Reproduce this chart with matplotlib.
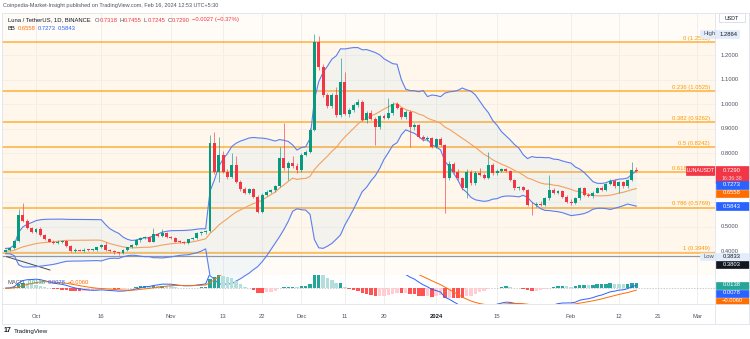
import numpy as np
import pandas as pd
import matplotlib
matplotlib.use("Agg")
import matplotlib.pyplot as plt
from matplotlib.patches import Rectangle
from matplotlib.lines import Line2D

plt.rcParams['font.family'] = ['Liberation Sans', 'DejaVu Sans']

# September closes before the first drawn candle (indicator warm-up only)
sep_closes = [0.404, 0.401, 0.398, 0.396, 0.399, 0.403, 0.407, 0.411, 0.414, 0.410,
              0.405, 0.400, 0.395, 0.392, 0.394, 0.398, 0.402, 0.406, 0.409, 0.412,
              0.408, 0.404, 0.399, 0.396, 0.393, 0.397, 0.401, 0.404, 0.402, 0.399]

# Daily LUNA/USDT candles, 2023-09-24 .. 2024-02-16
opens = [0.398, 0.405, 0.412, 0.443, 0.548, 0.525, 0.494, 0.480, 0.492, 0.467,
         0.449, 0.439, 0.433, 0.440, 0.443, 0.422, 0.402, 0.404, 0.403, 0.405,
         0.404, 0.406, 0.416, 0.425, 0.405, 0.402, 0.396, 0.392, 0.405, 0.416,
         0.425, 0.446, 0.456, 0.458, 0.440, 0.471, 0.462, 0.476, 0.457, 0.455,
         0.440, 0.437, 0.434, 0.450, 0.456, 0.474, 0.479, 0.482, 0.841, 0.725,
         0.793, 0.725, 0.705, 0.752, 0.684, 0.653, 0.640, 0.653, 0.623, 0.562,
         0.630, 0.643, 0.650, 0.667, 0.780, 0.739, 0.762, 0.749, 0.731, 0.793,
         0.807, 0.895, 1.256, 1.153, 1.038, 0.993, 1.038, 0.956, 1.092, 0.960,
         0.977, 0.997, 1.011, 0.936, 0.966, 0.941, 0.909, 0.952, 0.945, 0.963,
         1.001, 0.985, 0.947, 0.970, 0.906, 0.915, 0.868, 0.857, 0.862, 0.827,
         0.857, 0.834, 0.698, 0.757, 0.725, 0.698, 0.657, 0.725, 0.680, 0.721,
         0.712, 0.700, 0.752, 0.718, 0.728, 0.735, 0.728, 0.691, 0.657, 0.662,
         0.650, 0.589, 0.587, 0.595, 0.588, 0.616, 0.650, 0.640, 0.646, 0.623,
         0.603, 0.599, 0.616, 0.657, 0.630, 0.624, 0.640, 0.660, 0.652, 0.675,
         0.688, 0.665, 0.681, 0.665, 0.691, 0.7318]
highs = [0.409, 0.414, 0.447, 0.571, 0.596, 0.530, 0.500, 0.496, 0.500, 0.472,
         0.456, 0.446, 0.445, 0.447, 0.446, 0.426, 0.412, 0.410, 0.415, 0.409,
         0.410, 0.419, 0.429, 0.440, 0.409, 0.405, 0.399, 0.408, 0.418, 0.428,
         0.449, 0.460, 0.462, 0.463, 0.494, 0.476, 0.490, 0.480, 0.462, 0.459,
         0.446, 0.444, 0.452, 0.460, 0.480, 0.482, 0.486, 0.875, 0.888, 0.868,
         0.810, 0.735, 0.800, 0.790, 0.690, 0.662, 0.660, 0.658, 0.628, 0.640,
         0.650, 0.656, 0.672, 0.827, 0.922, 0.770, 0.790, 0.760, 0.800, 0.815,
         0.905, 1.2864, 1.280, 1.165, 1.045, 1.045, 1.072, 1.188, 1.133, 0.985,
         1.005, 1.020, 1.018, 0.972, 0.975, 0.948, 0.958, 0.960, 1.024, 1.008,
         1.010, 0.990, 0.978, 0.975, 0.922, 0.920, 0.875, 0.870, 0.868, 0.862,
         0.865, 0.840, 0.770, 0.765, 0.735, 0.705, 0.735, 0.732, 0.728, 0.738,
         0.718, 0.807, 0.760, 0.735, 0.742, 0.740, 0.733, 0.696, 0.668, 0.668,
         0.655, 0.600, 0.600, 0.606, 0.620, 0.711, 0.660, 0.652, 0.652, 0.628,
         0.612, 0.620, 0.662, 0.664, 0.636, 0.645, 0.664, 0.668, 0.680, 0.694,
         0.695, 0.686, 0.688, 0.696, 0.763, 0.7455]
lows = [0.396, 0.401, 0.409, 0.440, 0.518, 0.490, 0.476, 0.474, 0.462, 0.445,
        0.436, 0.430, 0.428, 0.434, 0.418, 0.398, 0.398, 0.400, 0.399, 0.400,
        0.401, 0.403, 0.412, 0.402, 0.398, 0.391, 0.3833, 0.390, 0.402, 0.413,
        0.422, 0.440, 0.450, 0.437, 0.436, 0.458, 0.458, 0.453, 0.450, 0.436,
        0.434, 0.430, 0.431, 0.446, 0.452, 0.468, 0.472, 0.478, 0.715, 0.684,
        0.718, 0.695, 0.700, 0.678, 0.648, 0.634, 0.632, 0.618, 0.555, 0.555,
        0.625, 0.637, 0.644, 0.662, 0.730, 0.690, 0.742, 0.720, 0.725, 0.788,
        0.800, 0.890, 1.140, 1.030, 0.985, 0.985, 0.950, 0.950, 0.955, 0.950,
        0.968, 0.990, 0.930, 0.925, 0.935, 0.834, 0.900, 0.940, 0.938, 0.955,
        0.980, 0.940, 0.940, 0.827, 0.895, 0.862, 0.850, 0.850, 0.820, 0.820,
        0.828, 0.556, 0.690, 0.718, 0.692, 0.650, 0.616, 0.672, 0.672, 0.708,
        0.694, 0.695, 0.712, 0.712, 0.722, 0.724, 0.686, 0.650, 0.650, 0.645,
        0.584, 0.548, 0.580, 0.584, 0.583, 0.610, 0.632, 0.633, 0.618, 0.598,
        0.590, 0.594, 0.610, 0.626, 0.620, 0.618, 0.636, 0.648, 0.648, 0.670,
        0.660, 0.638, 0.660, 0.660, 0.688, 0.7245]
closes = [0.405, 0.412, 0.443, 0.548, 0.525, 0.494, 0.480, 0.492, 0.467, 0.449,
          0.439, 0.433, 0.440, 0.443, 0.422, 0.402, 0.404, 0.403, 0.405, 0.404,
          0.406, 0.416, 0.425, 0.405, 0.402, 0.396, 0.392, 0.405, 0.416, 0.425,
          0.446, 0.456, 0.458, 0.440, 0.471, 0.462, 0.476, 0.457, 0.455, 0.440,
          0.437, 0.434, 0.450, 0.456, 0.474, 0.479, 0.482, 0.841, 0.725, 0.793,
          0.725, 0.705, 0.752, 0.684, 0.653, 0.640, 0.653, 0.623, 0.562, 0.630,
          0.643, 0.650, 0.667, 0.780, 0.739, 0.762, 0.749, 0.731, 0.793, 0.807,
          0.895, 1.256, 1.153, 1.038, 0.993, 1.038, 0.956, 1.092, 0.960, 0.977,
          0.997, 1.011, 0.936, 0.966, 0.941, 0.909, 0.952, 0.945, 0.963, 1.001,
          0.985, 0.947, 0.970, 0.906, 0.915, 0.868, 0.857, 0.862, 0.827, 0.857,
          0.834, 0.698, 0.757, 0.725, 0.698, 0.657, 0.725, 0.680, 0.721, 0.712,
          0.700, 0.752, 0.718, 0.728, 0.735, 0.728, 0.691, 0.657, 0.662, 0.650,
          0.589, 0.587, 0.595, 0.588, 0.616, 0.650, 0.640, 0.646, 0.623, 0.603,
          0.599, 0.616, 0.657, 0.630, 0.624, 0.640, 0.660, 0.652, 0.675, 0.688,
          0.665, 0.681, 0.665, 0.691, 0.732, 0.7290]

fib_ratios = ["0", "0.236", "0.382", "0.5", "0.618", "0.786", "1"]
fib_prices = [1.2535, 1.0525, 0.9262, 0.8242, 0.7229, 0.5769, 0.3949]
support_line = 0.3803
range_high = 1.2864
range_low = 0.3833

price_ticks = [1.2, 1.1, 1.0, 0.9, 0.8, 0.5, 0.4]
time_ticks = ["2023-10-01", "2023-10-16", "2023-11-01", "2023-11-13", "2023-11-22",
              "2023-12-01", "2023-12-11", "2023-12-20", "2024-01-01", "2024-01-15",
              "2024-02-01", "2024-02-12", "2024-02-21", "2024-03-01"]
time_labels = ["Oct", "16", "Nov", "13", "22", "Dec", "11", "20", "2024", "15",
               "Feb", "12", "21", "Mar"]

# ---------------------------------------------------------------- indicators
o = np.array(opens); h = np.array(highs); l = np.array(lows); c = np.array(closes)
dates = pd.date_range("2023-09-24", periods=len(c), freq="D")
origin = pd.Timestamp("2023-10-01")
xd = np.asarray((dates - origin).days, dtype=float)

allc = pd.Series(sep_closes + closes)
n0 = len(sep_closes)
basis_s = allc.rolling(20).mean()
dev_s = allc.rolling(20).std(ddof=0)
basis = basis_s.values[n0:]
upper = (basis_s + 2 * dev_s).values[n0:]
lower = (basis_s - 2 * dev_s).values[n0:]
ema12 = allc.ewm(span=12, adjust=False).mean()
ema26 = allc.ewm(span=26, adjust=False).mean()
macd_s = ema12 - ema26
sig_s = macd_s.ewm(span=9, adjust=False).mean()
macd = macd_s.values[n0:]
sig = sig_s.values[n0:]
hist_full = (macd_s - sig_s).values
hist = hist_full[n0:]
hist_prev = hist_full[n0 - 1:-1]

# ---------------------------------------------------------------- figure
W, H = 750, 339
fig = plt.figure(figsize=(7.5, 3.39), dpi=100)
fig.patch.set_facecolor("white")


def fx(px):
    return px / W


def fy(py):
    return 1 - py / H


L_PX, R_PX, T_PX, B_PX = 2, 715, 13, 304
X0_PX, DAY_PX = 36, 4.35          # Oct 1 position and pixels per day
xlim = ((L_PX - X0_PX) / DAY_PX, (R_PX - X0_PX) / DAY_PX)
ylim = (0.1849, 1.3727)

ax = fig.add_axes([fx(L_PX), fy(B_PX), fx(R_PX) - fx(L_PX), fy(T_PX) - fy(B_PX)])
ax.set_xlim(*xlim)
ax.set_ylim(*ylim)
ax.set_facecolor("#fffcf8")
for s in ax.spines.values():
    s.set_visible(False)
ax.set_xticks([]); ax.set_yticks([])

# oscillator strip at the bottom of the pane is white
macd_frac = (B_PX - 275) / (B_PX - T_PX)
ax.add_patch(Rectangle((0, 0), 1, macd_frac, transform=ax.transAxes,
                       facecolor="white", edgecolor="none", zorder=0))

# fib zone tint
ax.axhspan(fib_prices[-1], fib_prices[0], facecolor="#fff4e4", alpha=0.6,
           edgecolor="none", zorder=0.2)

tick_days = np.asarray((pd.to_datetime(time_ticks) - origin).days, dtype=float)
for d in tick_days:
    ax.axvline(d, color="#f0ece6", lw=0.6, zorder=0.3)
for p in price_ticks + [0.7, 0.6]:
    ax.axhline(p, color="#f3efe9", lw=0.6, zorder=0.3)

for p in fib_prices:
    ax.axhline(p, color="#ff9800", lw=1.1, alpha=0.75, zorder=1)
ax.axhline(support_line, color="#9598a1", lw=0.9, zorder=1.1)
ax.plot([-6.74, 3.2], [0.378, 0.3237], color="#434651", lw=0.7, zorder=1.2)

# Bollinger Bands
ax.fill_between(xd, lower, upper, color="#2196f3", alpha=0.05, lw=0, zorder=1.5)
ax.plot(xd, upper, color="#5a7ff0", lw=0.8, zorder=2)
ax.plot(xd, lower, color="#5a7ff0", lw=0.8, zorder=2)
ax.plot(xd, basis, color="#f5a15f", lw=0.8, zorder=2)

# candles
up = c >= o
col = np.where(up, "#089981", "#f23645")
ax.vlines(xd, l, h, colors=col, lw=0.55, alpha=0.8, zorder=3)
ax.bar(xd, np.maximum(np.abs(c - o), 0.004), bottom=np.minimum(o, c), width=0.68,
       color=col, lw=0, zorder=3.2)

# fib labels
lab_tr = ax.get_yaxis_transform()
for r, p in zip(fib_ratios, fib_prices):
    ax.text(1 - 5 / (R_PX - L_PX), p + 0.006, f"{r} ({p:.4f})", transform=lab_tr,
            ha="right", va="bottom", fontsize=4.2, color="#ff9800", zorder=4)

# MACD overlay
ax2 = fig.add_axes([fx(L_PX), fy(B_PX), fx(R_PX) - fx(L_PX), fy(275) - fy(B_PX)])
ax2.set_xlim(*xlim)
ax2.set_ylim(-0.0448, 0.0364)
ax2.patch.set_alpha(0)
ax2.axis("off")
hcol = np.where(hist >= 0,
                np.where(hist >= hist_prev, "#26a69a", "#b2dfdb"),
                np.where(hist < hist_prev, "#ff5252", "#ffcdd2"))
ax2.bar(xd, hist, width=0.8, color=hcol, lw=0, zorder=2)
ax2.axhline(0, color="#b2b5be", lw=0.5, ls=(0, (2, 2)), zorder=1)
ax2.plot(xd, macd, color="#2962ff", lw=0.7, zorder=3)
ax2.plot(xd, sig, color="#ff6d00", lw=0.7, zorder=3)

# ---------------------------------------------------------------- frame & axes
def hline(y, x0, x1, color="#e0e3eb", lw=0.6):
    fig.add_artist(Line2D([fx(x0), fx(x1)], [fy(y), fy(y)], color=color, lw=lw))


def vline(x, y0, y1, color="#e0e3eb", lw=0.6):
    fig.add_artist(Line2D([fx(x), fx(x)], [fy(y0), fy(y1)], color=color, lw=lw))


hline(T_PX, 2, 749)
hline(B_PX, 2, 749)
hline(324, 2, 749)
vline(R_PX, T_PX, 324)
vline(2, T_PX, 324)
vline(749, T_PX, 324)

FS = 4.2
TXT = "#50535e"

for d, lab in zip(tick_days, time_labels):
    fig.text(fx(X0_PX + d * DAY_PX), fy(316), lab, ha="center", va="center",
             fontsize=FS, color="#131722" if lab == "2024" else TXT,
             fontweight="bold" if lab == "2024" else "normal")

for p in price_ticks:
    ypx = T_PX + (ylim[1] - p) / (ylim[1] - ylim[0]) * (B_PX - T_PX)
    fig.text(fx(721), fy(ypx), f"{p:.4f}", ha="left", va="center",
             fontsize=FS, color=TXT)


def box(x0, y0, x1, y1, fc, ec=None):
    fig.add_artist(Rectangle((fx(x0), fy(y1)), fx(x1) - fx(x0), fy(y0) - fy(y1),
                             transform=fig.transFigure, facecolor=fc,
                             edgecolor=ec or fc, lw=0.5))


def boxtext(x, y, s, color, ha="center", weight="normal", fs=FS):
    fig.text(fx(x), fy(y), s, ha=ha, va="center", fontsize=fs, color=color,
             fontweight=weight)


box(719, 13.5, 745, 22, "white", "#d1d4dc")
boxtext(732, 18, "USDT", "#131722", fs=3.8)

box(700, 30.5, 739, 37.5, "#e3ecfb")
boxtext(703, 34, "High", TXT, ha="left")
boxtext(729, 34, f"{range_high:.4f}", "#131722")

box(686, 166, 715, 175, "#f23645")
boxtext(700.5, 170.5, "LUNAUSDT", "white", fs=3.8)
box(715, 166, 749, 183, "#f23645")
boxtext(732, 170.5, f"{closes[-1]:.4f}", "white")
boxtext(732, 179, "16:36:38", "#ffd2d6", fs=3.8)

box(716, 181, 749, 188.5, "#2962ff")
boxtext(732, 185, f"{upper[-1]:.4f}", "white")
box(716, 189.5, 749, 197, "#ff6d00")
boxtext(732, 193, f"{basis[-1]:.4f}", "white")
box(716, 202, 749, 209.5, "#2962ff")
boxtext(732, 206, f"{lower[-1]:.4f}", "white")

box(700, 252.5, 749, 259.5, "#e3ecfb")
boxtext(703, 256, "Low", TXT, ha="left")
boxtext(732, 256, f"{range_low:.4f}", "#131722")
box(716, 260.5, 749, 267.5, "#131722")
boxtext(732, 264, f"{support_line:.4f}", "white")

box(716, 281.5, 749, 288.5, "#26a69a")
boxtext(732, 285, f"{hist[-1]:.4f}", "white")
box(716, 289.5, 749, 296.5, "#2962ff")
boxtext(732, 293, f"{macd[-1]:.4f}", "white")
box(716, 297.5, 749, 304, "#ff6d00")
boxtext(732, 300.7, f"{sig[-1]:.4f}".replace("-", "\u2212"), "white")

# ---------------------------------------------------------------- legends
renderer = fig.canvas.get_renderer()


def run(x_px, y_px, pieces, fs=FS):
    x = fx(x_px)
    for s, colr, gap in pieces:
        t = fig.text(x, fy(y_px), s, color=colr, fontsize=fs, ha="left", va="center")
        bb = t.get_window_extent(renderer=renderer)
        x += bb.width / fig.bbox.width + gap / W


fig.text(fx(3), fy(6), "Coinpedia-Market-Insight published on TradingView.com, "
         "Feb 16, 2024 12:53 UTC+5:30", fontsize=4.0, color=TXT, ha="left", va="center")

RED = "#f23645"
run(8, 20, [("Luna / TetherUS, 1D, BINANCE", "#131722", 4),
            ("O", TXT, 0.3), (f"{opens[-1]:.4f}", RED, 2),
            ("H", TXT, 0.3), (f"{highs[-1]:.4f}", RED, 2),
            ("L", TXT, 0.3), (f"{lows[-1]:.4f}", RED, 2),
            ("C", TXT, 0.3), (f"{closes[-1]:.4f}", RED, 2.5),
            ("\u22120.0027 (\u22120.37%)", RED, 0)])
run(8, 28, [("BB", "#131722", 2.5), (f"{basis[-1]:.4f}", "#ff6d00", 2),
            (f"{upper[-1]:.4f}", "#2962ff", 2), (f"{lower[-1]:.4f}", "#2962ff", 0)])
run(8, 283, [("MACD", TXT, 2.5), (f"{hist[-1]:.4f}", "#26a69a", 2),
             (f"{macd[-1]:.4f}", "#2962ff", 2),
             (f"{sig[-1]:.4f}".replace("-", "\u2212"), "#ff6d00", 0)])

fig.text(fx(4), fy(331), "17", fontsize=5, fontweight="bold", color="#131722",
         ha="left", va="center")
fig.text(fx(14), fy(331), "TradingView", fontsize=4.5, color="#131722",
         ha="left", va="center")

fig.savefig("out.png", dpi=100, facecolor="white")
